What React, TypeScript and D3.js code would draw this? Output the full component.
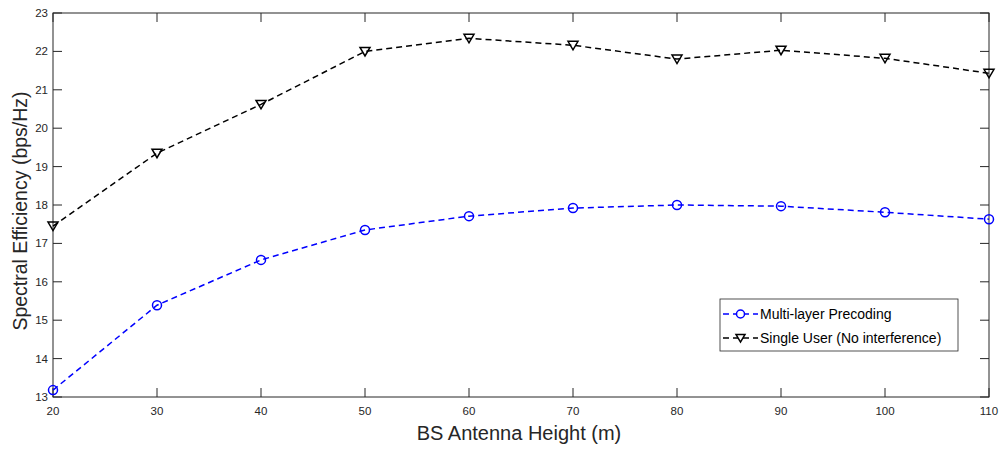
import React, { useEffect, useRef } from "react";
import * as d3 from "d3";

const heights = [20, 30, 40, 50, 60, 70, 80, 90, 100, 110];
const multiLayer = [13.18, 15.39, 16.57, 17.35, 17.71, 17.92, 18.0, 17.97, 17.81, 17.63];
const singleUser = [17.45, 19.35, 20.62, 22.0, 22.34, 22.16, 21.8, 22.03, 21.82, 21.43];
const yTicks = [13, 14, 15, 16, 17, 18, 19, 20, 21, 22, 23];
const seriesNames = ["Multi-layer Precoding", "Single User (No interference)"];

const App = () => {
    const svgRef = useRef(null);

    useEffect(() => {
        const svg = d3.select(svgRef.current);
        svg.selectAll("*").remove();

        const left = 53, right = 989, top = 13, bottom = 397;
        const axisColor = "#262626";
        const font = "Liberation Sans, Arial, sans-serif";

        const x = d3.scaleLinear().domain([20, 110]).range([left, right]);
        const y = d3.scaleLinear().domain([13, 23]).range([bottom, top]);

        svg.append("rect").attr("width", 1001).attr("height", 449).attr("fill", "white");

        // box
        svg.append("rect")
            .attr("x", left).attr("y", top)
            .attr("width", right - left).attr("height", bottom - top)
            .attr("fill", "none").attr("stroke", axisColor).attr("stroke-width", 1);

        const tl = 9;
        // x ticks
        heights.forEach(h => {
            svg.append("line").attr("x1", x(h)).attr("x2", x(h)).attr("y1", bottom).attr("y2", bottom - tl)
                .attr("stroke", axisColor);
            svg.append("line").attr("x1", x(h)).attr("x2", x(h)).attr("y1", top).attr("y2", top + tl)
                .attr("stroke", axisColor);
            svg.append("text").attr("x", x(h)).attr("y", bottom + 17.5)
                .attr("text-anchor", "middle").attr("fill", axisColor)
                .style("font-family", font).style("font-size", "11.5px").text(h);
        });
        // y ticks
        yTicks.forEach(t => {
            svg.append("line").attr("x1", left).attr("x2", left + tl).attr("y1", y(t)).attr("y2", y(t))
                .attr("stroke", axisColor);
            svg.append("line").attr("x1", right).attr("x2", right - tl).attr("y1", y(t)).attr("y2", y(t))
                .attr("stroke", axisColor);
            svg.append("text").attr("x", left - 5).attr("y", y(t) + 4)
                .attr("text-anchor", "end").attr("fill", axisColor)
                .style("font-family", font).style("font-size", "11.5px").text(t);
        });

        svg.append("text").attr("x", 519).attr("y", 440)
            .attr("text-anchor", "middle").attr("fill", axisColor)
            .style("font-family", font).style("font-size", "20px").text("BS Antenna Height (m)");
        svg.append("text")
            .attr("transform", `translate(26.5, 211) rotate(-90)`)
            .attr("text-anchor", "middle").attr("fill", axisColor)
            .style("font-family", font).style("font-size", "19.5px").text("Spectral Efficiency (bps/Hz)");

        const line = d3.line<number>().x((d, i) => x(heights[i])).y(d => y(d));

        const tri = (cx: number, cy: number, s: number) =>
            `M${cx - s},${cy - s * 0.8}L${cx + s},${cy - s * 0.8}L${cx},${cy + s * 0.9}Z`;

        const series = [
            { vals: multiLayer, color: "#0000ff", marker: "o" },
            { vals: singleUser, color: "#000000", marker: "v" },
        ];

        series.forEach(s => {
            svg.append("path").datum(s.vals).attr("d", line)
                .attr("fill", "none").attr("stroke", s.color).attr("stroke-width", 1.5)
                .attr("stroke-dasharray", "6,4");
            s.vals.forEach((v, i) => {
                if (s.marker === "o") {
                    svg.append("circle").attr("cx", x(heights[i])).attr("cy", y(v)).attr("r", 4.5)
                        .attr("fill", "none").attr("stroke", s.color).attr("stroke-width", 1.5);
                } else {
                    svg.append("path").attr("d", tri(x(heights[i]), y(v), 5))
                        .attr("fill", "none").attr("stroke", s.color).attr("stroke-width", 1.5);
                }
            });
        });

        // legend
        const lg = svg.append("g");
        lg.append("rect").attr("x", 720).attr("y", 299).attr("width", 238).attr("height", 52)
            .attr("fill", "white").attr("stroke", axisColor).attr("stroke-width", 0.8);
        series.forEach((s, i) => {
            const ly = 314 + i * 24;
            lg.append("line").attr("x1", 723).attr("x2", 758).attr("y1", ly).attr("y2", ly)
                .attr("stroke", s.color).attr("stroke-width", 1.5).attr("stroke-dasharray", "6,4")
                .attr("stroke-dashoffset", 0);
            if (s.marker === "o") {
                lg.append("circle").attr("cx", 740.5).attr("cy", ly).attr("r", 4)
                    .attr("fill", "white").attr("stroke", s.color).attr("stroke-width", 1.5);
            } else {
                lg.append("path").attr("d", tri(740.5, ly, 4.5))
                    .attr("fill", "white").attr("stroke", s.color).attr("stroke-width", 1.5);
            }
            lg.append("text").attr("x", 760).attr("y", ly + 5).attr("fill", "#000")
                .style("font-family", font).style("font-size", "14px").text(seriesNames[i]);
        });
    }, []);

    return (
        <svg ref={svgRef} width={1001} height={449}
            style={{ position: "absolute", left: 0, top: 0 }}></svg>
    );
};

export default App;
